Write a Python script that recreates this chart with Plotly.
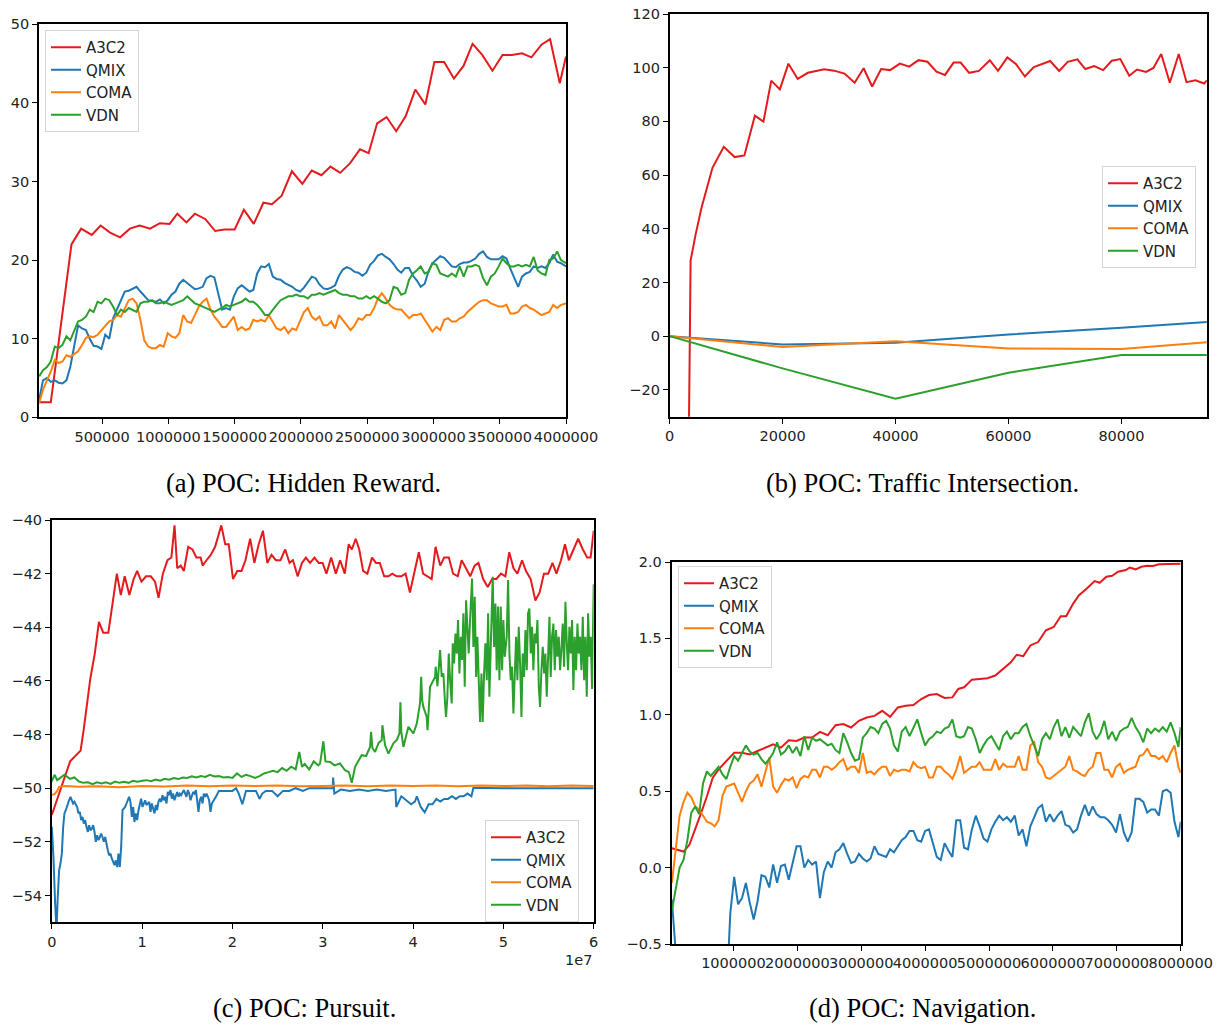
import plotly.graph_objects as go

# ---------------- (a) POC: Hidden Reward ----------------
a_x = [25000, 54000, 84000, 113000, 143000, 172000, 201000, 231000, 260000, 289000,
       319000, 348000, 378000, 407000, 436000, 466000, 495000, 524000, 554000, 583000,
       613000, 642000, 671000, 701000, 730000, 760000, 789000, 818000, 848000, 877000,
       906000, 936000, 965000, 995000, 1024000, 1053000, 1083000, 1112000, 1142000, 1171000,
       1200000, 1230000, 1259000, 1288000, 1318000, 1347000, 1377000, 1406000, 1435000, 1465000,
       1494000, 1523000, 1553000, 1582000, 1612000, 1641000, 1670000, 1700000, 1729000, 1758000,
       1788000, 1817000, 1847000, 1876000, 1905000, 1935000, 1964000, 1994000, 2023000, 2052000,
       2082000, 2111000, 2140000, 2170000, 2199000, 2229000, 2258000, 2287000, 2317000, 2346000,
       2375000, 2405000, 2434000, 2464000, 2493000, 2522000, 2552000, 2581000, 2611000, 2640000,
       2669000, 2699000, 2728000, 2757000, 2787000, 2816000, 2846000, 2875000, 2904000, 2934000,
       2963000, 2992000, 3022000, 3051000, 3081000, 3110000, 3139000, 3169000, 3198000, 3228000,
       3257000, 3286000, 3316000, 3345000, 3374000, 3404000, 3433000, 3463000, 3492000, 3521000,
       3551000, 3580000, 3609000, 3639000, 3668000, 3698000, 3727000, 3756000, 3786000, 3815000,
       3845000, 3874000, 3903000, 3933000, 3962000, 4000000]
a_qmix = [2.2, 4.7, 5.0, 4.5, 4.7, 4.4, 4.3, 4.7, 6.4, 9.0,
          11.7, 11.3, 11.1, 10.0, 9.1, 9.0, 8.7, 10.5, 10.0, 12.6,
          13.7, 14.8, 16.0, 16.1, 16.4, 16.6, 16.0, 15.5, 14.9, 14.8,
          14.7, 15.0, 14.5, 14.9, 15.6, 16.0, 17.0, 17.5, 17.1, 16.6,
          16.3, 16.4, 16.6, 17.7, 18.0, 17.8, 15.8, 13.7, 13.9, 13.7,
          15.4, 16.4, 16.8, 16.4, 16.0, 16.2, 18.3, 19.2, 19.1, 19.5,
          17.9, 17.6, 17.5, 17.1, 16.9, 16.6, 16.2, 16.0, 16.5, 17.2,
          17.9, 17.7, 16.9, 16.4, 16.3, 16.5, 16.8, 18.0, 18.8, 19.1,
          18.9, 18.5, 18.4, 18.0, 18.4, 19.4, 19.9, 20.6, 20.8, 20.4,
          20.1, 19.5, 18.8, 18.4, 19.0, 19.0, 18.0, 17.4, 16.6, 17.0,
          18.6, 19.6, 20.1, 20.5, 20.3, 19.7, 19.2, 19.1, 19.5, 19.7,
          19.7, 19.9, 20.2, 20.8, 21.1, 20.4, 20.1, 20.1, 20.1, 20.5,
          20.2, 18.9, 17.7, 16.6, 17.9, 18.3, 18.5, 19.2, 19.0, 19.2,
          19.0, 19.6, 20.7, 19.8, 19.6, 19.2]
a_coma = [1.8, 3.5, 4.7, 5.8, 7.3, 6.9, 7.1, 7.9, 7.7, 8.1,
          8.4, 9.2, 10.1, 10.3, 10.2, 10.5, 11.1, 11.7, 12.2, 12.4,
          13.0, 12.8, 13.9, 14.9, 15.1, 14.5, 12.4, 9.8, 9.0, 8.8,
          8.8, 9.2, 9.0, 10.7, 10.3, 10.1, 10.7, 13.0, 12.2, 12.0,
          13.0, 14.1, 14.7, 15.1, 13.7, 12.8, 12.2, 11.5, 11.5, 12.2,
          12.8, 11.1, 11.5, 11.1, 11.3, 12.4, 12.2, 12.4, 12.2, 13.0,
          12.2, 11.3, 11.1, 11.5, 10.7, 11.3, 11.1, 12.4, 13.4, 13.9,
          12.8, 12.4, 12.8, 11.7, 11.7, 12.2, 11.3, 13.0, 12.4, 11.7,
          11.1, 11.7, 12.6, 12.4, 13.0, 13.0, 13.9, 15.1, 15.8, 15.1,
          14.3, 13.9, 13.7, 13.7, 13.2, 12.6, 13.0, 13.0, 13.2, 12.4,
          11.5, 10.9, 11.5, 11.1, 12.4, 12.6, 12.2, 12.2, 12.6, 12.8,
          13.4, 13.9, 14.3, 14.7, 14.9, 14.9, 14.5, 14.3, 14.1, 14.1,
          14.3, 13.2, 13.2, 13.4, 14.1, 14.3, 13.9, 13.7, 13.4, 13.0,
          13.2, 13.4, 14.3, 13.9, 14.3, 14.5]
a_vdn = [5.2, 6.0, 6.4, 7.1, 9.0, 8.8, 9.2, 10.3, 9.8, 11.1,
         12.2, 12.4, 12.8, 13.7, 13.4, 14.7, 14.5, 15.1, 14.9, 14.1,
         13.0, 13.7, 13.4, 13.9, 13.7, 13.4, 14.5, 14.7, 14.7, 14.9,
         14.5, 14.5, 14.7, 14.5, 14.3, 14.5, 14.7, 14.9, 15.4, 14.9,
         14.5, 14.3, 14.1, 13.9, 13.7, 13.4, 13.7, 13.9, 14.3, 14.1,
         14.3, 14.5, 14.7, 15.1, 14.7, 14.7, 14.3, 13.7, 13.0, 13.0,
         13.7, 14.3, 14.9, 15.1, 15.4, 15.4, 15.6, 15.4, 15.4, 15.1,
         15.6, 15.6, 15.8, 15.6, 15.8, 16.0, 16.2, 15.8, 15.6, 15.6,
         15.4, 15.4, 15.1, 15.1, 15.4, 15.1, 15.4, 15.1, 14.7, 14.5,
         14.9, 16.6, 16.4, 15.6, 15.8, 17.5, 18.3, 18.7, 19.2, 18.3,
         18.5, 19.6, 19.4, 18.3, 18.1, 17.9, 18.3, 17.9, 19.2, 17.9,
         19.2, 19.2, 19.4, 19.2, 17.7, 16.8, 17.9, 18.3, 19.2, 20.2,
         19.6, 19.2, 19.2, 19.4, 19.2, 19.4, 19.2, 20.4, 18.7, 18.3,
         18.1, 20.0, 20.2, 21.1, 20.0, 19.6]
a_a3c2_x = [25000, 113000, 269000, 342000, 422000, 489000, 560000, 636000, 710000, 783000,
            862000, 936000, 1009000, 1068000, 1136000, 1200000, 1280000, 1353000, 1421000, 1500000,
            1570000, 1644000, 1717000, 1782000, 1855000, 1932000, 2011000, 2082000, 2155000, 2223000,
            2296000, 2370000, 2446000, 2511000, 2575000, 2646000, 2719000, 2790000, 2863000, 2939000,
            3007000, 3081000, 3154000, 3227000, 3295000, 3368000, 3445000, 3521000, 3592000, 3668000,
            3739000, 3815000, 3880000, 3953000, 4000000]
a_a3c2_y = [1.9, 1.9, 22.0, 24.0, 23.2, 24.4, 23.5, 22.9, 24.0, 24.4,
            24.0, 24.7, 24.6, 25.9, 24.8, 25.9, 25.2, 23.7, 23.9, 23.9,
            26.4, 24.6, 27.3, 27.1, 28.2, 31.3, 29.7, 31.4, 30.8, 31.9,
            31.1, 32.3, 34.1, 33.6, 37.4, 38.2, 36.4, 38.3, 41.7, 39.8,
            45.2, 45.2, 43.1, 44.7, 47.5, 46.1, 44.1, 46.1, 46.1, 46.3,
            45.8, 47.4, 48.1, 42.5, 45.9]

# ---------------- (b) POC: Traffic Intersection ----------------
b_x = [0, 20000, 40000, 60000, 80000, 100000]
b_qmix = [0, -3.1, -2.5, 0.6, 3.1, 6.0]
b_coma = [0, -4.0, -1.9, -4.6, -4.8, -1.5]
b_vdn = [0, -12.0, -23.3, -13.6, -7.0, -7.0]
b_a3c2_x = [0, 3720, 4620, 5660, 7590, 9590, 11520, 13240, 15100, 16620,
            18000, 19520, 21040, 22690, 24480, 26000, 27380, 29110, 30970, 32760,
            34350, 35860, 37450, 39040, 40760, 42420, 44070, 45660, 47240, 48760,
            50280, 51520, 53040, 54760, 56690, 58140, 59800, 61310, 62900, 64490,
            66000, 67380, 68970, 70490, 72210, 73590, 75180, 76760, 78280, 79800,
            81380, 82760, 84350, 85660, 87040, 88560, 90140, 91520, 93110, 94630, 95110]
b_a3c2_y = [-750, 28.1, 38.0, 47.9, 62.7, 70.5, 66.7, 67.3, 82.1, 79.9,
            95.2, 91.9, 101.5, 95.8, 98.1, 98.7, 99.4, 98.9, 97.8, 94.4,
            99.8, 93.0, 99.5, 99.1, 101.5, 100.4, 102.8, 102.2, 98.5, 97.3,
            101.9, 101.9, 98.1, 98.8, 102.8, 98.8, 103.8, 101.4, 96.7, 100.2,
            101.4, 102.5, 98.8, 102.2, 103.1, 99.5, 100.6, 99.1, 102.6, 103.2,
            97.0, 99.3, 98.4, 99.9, 105.1, 94.4, 105.1, 94.6, 95.3, 94.1, 95.3]

# ---------------- (c) POC: Pursuit (x in units of 1e7 steps) ----------------
c_a3c2_x = [0.0, 0.073, 0.138, 0.203, 0.319, 0.354, 0.427, 0.475, 0.522, 0.569,
            0.626, 0.673, 0.720, 0.764, 0.807, 0.859, 0.906, 0.945, 0.992, 1.044,
            1.096, 1.143, 1.182, 1.230, 1.281, 1.324, 1.359, 1.389, 1.428, 1.462,
            1.510, 1.557, 1.601, 1.648, 1.670, 1.713, 1.760, 1.808, 1.877, 1.920,
            1.959, 2.006, 2.054, 2.101, 2.144, 2.196, 2.243, 2.291, 2.338, 2.386,
            2.433, 2.481, 2.532, 2.584, 2.632, 2.670, 2.722, 2.770, 2.813, 2.860,
            2.908, 2.955, 2.998, 3.041, 3.093, 3.145, 3.192, 3.244, 3.287, 3.322,
            3.365, 3.404, 3.447, 3.494, 3.546, 3.589, 3.632, 3.680, 3.727, 3.770,
            3.818, 3.870, 3.917, 3.965, 4.012, 4.064, 4.111, 4.159, 4.206, 4.249,
            4.301, 4.344, 4.396, 4.443, 4.495, 4.538, 4.582, 4.633, 4.681, 4.724,
            4.776, 4.827, 4.875, 4.922, 4.974, 5.022, 5.065, 5.112, 5.155, 5.207,
            5.250, 5.302, 5.354, 5.401, 5.449, 5.496, 5.544, 5.587, 5.638, 5.682,
            5.725, 5.781, 5.828, 5.880, 5.928, 5.966, 6.000]
c_a3c2_y = [-51.0, -50.3, -49.6, -49.0, -48.6, -47.8, -45.9, -45.0, -43.8, -44.2,
            -44.2, -43.0, -42.0, -42.8, -42.1, -42.8, -42.2, -41.9, -42.3, -42.1,
            -42.1, -42.3, -42.9, -42.0, -41.5, -41.4, -40.2, -41.8, -41.7, -41.9,
            -41.0, -41.1, -41.4, -41.4, -41.7, -41.5, -41.3, -41.0, -40.2, -40.9,
            -40.9, -42.2, -41.9, -41.9, -41.5, -40.7, -41.6, -40.9, -40.4, -41.6,
            -41.3, -41.5, -41.5, -41.1, -41.6, -41.5, -42.1, -41.6, -41.4, -41.6,
            -41.4, -41.6, -41.6, -42.0, -41.4, -42.0, -41.5, -42.0, -40.9, -41.1,
            -40.7, -41.1, -41.9, -42.0, -41.4, -41.6, -41.6, -42.1, -42.1, -42.0,
            -42.1, -42.1, -42.0, -42.7, -42.0, -41.2, -42.0, -42.1, -42.2, -41.0,
            -41.7, -41.4, -41.4, -42.0, -42.1, -41.5, -41.8, -42.1, -41.7, -41.6,
            -42.2, -42.5, -42.2, -42.2, -42.0, -42.1, -41.2, -41.8, -42.0, -41.5,
            -41.9, -42.2, -43.0, -42.7, -42.0, -42.0, -41.6, -42.0, -41.5, -40.9,
            -41.5, -41.1, -40.7, -41.1, -41.4, -41.4, -40.4]
c_qmix_x = [0.0, 0.018, 0.037, 0.052, 0.066, 0.081, 0.096, 0.111, 0.126, 0.140,
            0.155, 0.170, 0.185, 0.207, 0.221, 0.236, 0.251, 0.266, 0.281, 0.295,
            0.310, 0.325, 0.340, 0.354, 0.369, 0.384, 0.399, 0.413, 0.428, 0.443,
            0.458, 0.473, 0.487, 0.502, 0.517, 0.532, 0.546, 0.561, 0.576, 0.591,
            0.605, 0.620, 0.635, 0.650, 0.664, 0.679, 0.694, 0.709, 0.724, 0.738,
            0.753, 0.768, 0.783, 0.797, 0.812, 0.827, 0.842, 0.856, 0.871, 0.886,
            0.901, 0.915, 0.930, 0.945, 0.960, 0.975, 0.989, 1.004, 1.019, 1.034,
            1.048, 1.063, 1.078, 1.093, 1.107, 1.122, 1.137, 1.152, 1.166, 1.181,
            1.196, 1.211, 1.226, 1.240, 1.255, 1.270, 1.285, 1.299, 1.314, 1.329,
            1.344, 1.358, 1.373, 1.388, 1.403, 1.417, 1.432, 1.447, 1.462, 1.477,
            1.491, 1.506, 1.521, 1.536, 1.550, 1.565, 1.580, 1.595, 1.609, 1.624,
            1.639, 1.654, 1.669, 1.683, 1.698, 1.713, 1.728, 1.742, 1.757, 1.772,
            1.82, 1.85, 1.89, 1.93, 1.96, 2.0, 2.04, 2.07, 2.11, 2.15,
            2.19, 2.22, 2.26, 2.30, 2.33, 2.37, 2.44, 2.50, 2.56, 2.63,
            2.70, 2.78, 2.85, 2.93, 3.0, 3.11, 3.115, 3.128, 3.2, 3.3,
            3.4, 3.5, 3.6, 3.7, 3.805, 3.814, 3.87, 3.934, 3.978, 4.021,
            4.042, 4.085, 4.129, 4.172, 4.215, 4.258, 4.301, 4.344, 4.387, 4.431,
            4.474, 4.517, 4.56, 4.603, 4.646, 4.668, 5.0, 5.5, 6.0]
c_qmix_y = [-51.44, -52.56, -54.3, -55.3, -54.05, -53.06, -52.81, -52.44, -51.44, -50.94,
            -50.82, -50.7, -50.51, -50.32, -50.45, -50.57, -50.51, -50.63, -50.7, -50.94,
            -50.88, -51.19, -51.07, -51.32, -51.19, -51.44, -51.63, -51.38, -51.57, -51.51,
            -51.38, -51.63, -52.0, -51.75, -51.94, -51.82, -51.69, -51.82, -52.0, -51.82,
            -52.13, -52.31, -52.5, -52.44, -52.62, -52.75, -52.87, -52.69, -52.94, -52.44,
            -52.94, -52.19, -50.82, -50.76, -50.7, -50.57, -50.45, -50.32, -50.51, -51.07,
            -50.7, -51.26, -50.94, -51.19, -50.82, -50.57, -50.39, -50.7, -50.57, -50.45,
            -50.63, -50.57, -50.51, -50.88, -50.57, -50.76, -50.94, -50.63, -50.82, -50.51,
            -50.39, -50.51, -50.26, -50.45, -50.32, -50.57, -50.14, -50.26, -50.07, -50.39,
            -50.2, -50.45, -50.26, -50.14, -50.32, -50.2, -50.26, -50.14, -50.07, -50.2,
            -50.32, -50.07, -50.2, -50.45, -50.26, -50.14, -50.2, -50.07, -50.45, -50.88,
            -50.45, -50.32, -50.57, -50.2, -50.32, -50.2, -50.32, -50.45, -50.88, -50.57,
            -50.3, -50.1, -50.1, -50.1, -50.1, -50.1, -50.0, -50.2, -50.6, -50.1,
            -50.1, -50.1, -50.1, -50.4, -50.2, -50.1, -50.1, -50.3, -50.1, -50.1,
            -50.0, -50.1, -50.0, -50.0, -50.0, -50.0, -49.6, -50.2, -50.05, -50.1,
            -50.05, -50.1, -50.05, -50.1, -50.05, -50.7, -50.3, -50.5, -50.6, -50.5,
            -50.3, -50.7, -50.9, -50.6, -50.6, -50.4, -50.5, -50.4, -50.4, -50.3,
            -50.4, -50.3, -50.3, -50.2, -50.3, -49.98, -50.0, -50.0, -50.0]
c_coma_x = [0.0, 0.03, 0.06, 0.08, 0.15, 0.3, 0.5, 0.75, 1.0, 1.25,
            1.5, 1.75, 2.0, 2.25, 2.5, 2.75, 3.0, 3.25, 3.5, 3.75,
            4.0, 4.25, 4.5, 4.75, 5.0, 5.25, 5.5, 5.75, 6.0]
c_coma_y = [-50.25, -50.22, -50.1, -49.95, -49.92, -49.95, -49.93, -49.96, -49.92, -49.94,
            -49.9, -49.93, -49.9, -49.92, -49.9, -49.93, -49.92, -49.9, -49.93, -49.9,
            -49.92, -49.9, -49.93, -49.9, -49.92, -49.9, -49.93, -49.9, -49.92]
c_vdn_x = [0.0, 0.03, 0.06, 0.1, 0.14, 0.2, 0.25, 0.3, 0.35, 0.4,
           0.45, 0.5, 0.55, 0.6, 0.65, 0.7, 0.75, 0.8, 0.85, 0.9,
           0.95, 1.0, 1.05, 1.1, 1.15, 1.2, 1.25, 1.3, 1.35, 1.4,
           1.45, 1.5, 1.55, 1.6, 1.65, 1.7, 1.75, 1.8, 1.85, 1.9,
           1.95, 2.0, 2.05, 2.1, 2.15, 2.2, 2.25, 2.3, 2.35, 2.4,
           2.45, 2.5, 2.55, 2.6, 2.65, 2.7, 2.74, 2.77, 2.8, 2.85,
           2.9, 2.95, 2.97, 3.007, 3.03, 3.081, 3.13, 3.191, 3.247, 3.29,
           3.321, 3.34, 3.358, 3.4, 3.431, 3.48, 3.524, 3.535, 3.55, 3.579,
           3.62, 3.653, 3.66, 3.69, 3.727, 3.782, 3.82, 3.849, 3.86, 3.87,
           3.893, 3.948, 4.004, 4.041, 4.077, 4.09, 4.1, 4.114, 4.151, 4.16,
           4.188, 4.244, 4.25, 4.27,
           4.299, 4.317, 4.336, 4.354, 4.365, 4.380, 4.395, 4.410, 4.428, 4.439,
           4.454, 4.469, 4.484, 4.498, 4.513, 4.528, 4.543, 4.557, 4.572, 4.587,
           4.602, 4.616, 4.631, 4.653, 4.668, 4.683, 4.698, 4.712, 4.727, 4.742,
           4.757, 4.771, 4.786, 4.801, 4.816, 4.831, 4.845, 4.860, 4.882, 4.897,
           4.912, 4.926, 4.941, 4.956, 4.971, 4.986, 5.000, 5.015, 5.037, 5.052,
           5.067, 5.081, 5.096, 5.111, 5.126, 5.141, 5.155, 5.170, 5.185, 5.200,
           5.214, 5.229, 5.244, 5.259, 5.273, 5.288, 5.303, 5.318, 5.332, 5.347,
           5.362, 5.377, 5.392, 5.406, 5.421, 5.436, 5.451, 5.465, 5.480, 5.495,
           5.510, 5.524, 5.539, 5.554, 5.569, 5.583, 5.598, 5.613, 5.628, 5.642,
           5.657, 5.672, 5.687, 5.702, 5.716, 5.731, 5.746, 5.761, 5.775, 5.790,
           5.805, 5.820, 5.834, 5.849, 5.864, 5.879, 5.894, 5.908, 5.923, 5.938,
           5.953, 5.967, 5.982, 6.0]
c_vdn_y = [-49.75, -49.5, -49.7, -49.6, -49.5, -49.65, -49.6, -49.75, -49.8, -49.78,
           -49.85, -49.78, -49.82, -49.78, -49.84, -49.75, -49.8, -49.76, -49.8, -49.72,
           -49.76, -49.72, -49.7, -49.74, -49.68, -49.72, -49.65, -49.68, -49.62, -49.66,
           -49.6, -49.62, -49.56, -49.6, -49.55, -49.58, -49.5, -49.56, -49.55, -49.6,
           -49.58, -49.62, -49.45, -49.58, -49.5, -49.55, -49.62, -49.55, -49.45, -49.4,
           -49.35, -49.4, -49.25, -49.35, -49.2, -49.3, -48.65, -49.2, -49.1, -49.3,
           -49.0, -49.15, -49.08, -48.25, -49.0, -49.02, -49.15, -49.08, -49.33, -49.4,
           -49.8, -49.5, -49.2, -48.95, -48.77, -48.8, -48.46, -47.9, -48.5, -48.65,
           -48.3, -48.21, -47.65, -48.4, -48.71, -48.33, -48.2, -47.96, -46.8, -47.9,
           -48.46, -47.71, -47.96, -47.59, -46.84, -45.85, -46.7, -46.97, -47.34, -47.84,
           -46.22, -45.85, -45.47, -46.2,
           -44.85, -45.85, -45.72, -46.84, -47.34, -46.59, -44.98, -45.97, -46.84, -44.6,
           -45.35, -44.23, -44.98, -43.73, -45.72, -44.35, -45.22, -43.48, -46.22, -42.99,
           -44.35, -44.98, -43.73, -42.18, -44.73, -42.86, -45.85, -44.35, -45.97, -47.53,
           -45.72, -47.53, -45.72, -44.6, -45.97, -43.48, -46.59, -44.35, -42.12, -44.73,
           -43.11, -45.6, -43.23, -45.97, -43.23, -45.6, -43.73, -45.1, -44.35, -42.24,
           -44.98, -45.97, -45.47, -47.21, -45.47, -44.35, -45.97, -43.98, -45.35, -47.34,
           -44.98, -45.85, -44.1, -45.6, -43.48, -43.3, -44.98, -43.98, -45.6, -44.23,
           -44.6, -43.73, -46.22, -46.97, -45.6, -44.73, -45.72, -44.98, -46.59, -44.6,
           -43.61, -45.85, -44.35, -43.86, -45.6, -44.1, -45.1, -44.35, -45.6, -44.85,
           -43.86, -45.47, -43.05, -44.6, -45.6, -43.98, -44.98, -43.73, -46.34, -44.35,
           -45.6, -43.86, -44.98, -44.35, -45.6, -43.61, -45.97, -44.35, -46.59, -43.48,
           -45.1, -44.35, -46.3, -42.4]

# ---------------- (d) POC: Navigation ----------------
d_x = [37000, 97000, 158000, 219000, 280000, 341000, 402000, 463000, 524000, 585000,
       646000, 707000, 768000, 829000, 890000, 951000, 1012000, 1073000, 1134000, 1195000,
       1256000, 1317000, 1378000, 1439000, 1500000, 1561000, 1622000, 1683000, 1744000, 1805000,
       1866000, 1927000, 1988000, 2049000, 2110000, 2171000, 2232000, 2293000, 2354000, 2415000,
       2476000, 2537000, 2598000, 2659000, 2720000, 2781000, 2842000, 2903000, 2964000, 3025000,
       3086000, 3146000, 3207000, 3268000, 3329000, 3390000, 3451000, 3512000, 3573000, 3634000,
       3695000, 3756000, 3817000, 3878000, 3939000, 4000000, 4061000, 4122000, 4183000, 4244000,
       4305000, 4366000, 4427000, 4488000, 4549000, 4610000, 4671000, 4732000, 4793000, 4854000,
       4915000, 4976000, 5037000, 5098000, 5159000, 5220000, 5281000, 5342000, 5403000, 5464000,
       5525000, 5586000, 5647000, 5708000, 5769000, 5830000, 5891000, 5952000, 6013000, 6074000,
       6135000, 6195000, 6256000, 6317000, 6378000, 6439000, 6500000, 6561000, 6622000, 6683000,
       6744000, 6805000, 6866000, 6927000, 6988000, 7049000, 7110000, 7171000, 7232000, 7293000,
       7354000, 7415000, 7476000, 7537000, 7598000, 7659000, 7720000, 7781000, 7842000, 7903000,
       7964000, 8000000]
d_qmix = [-0.21, -0.60, -0.90, -1.0, -1.0, -1.0, -1.0, -1.0, -1.0, -1.0,
          -1.0, -1.0, -1.0, -1.0, -0.85, -0.30, -0.06, -0.24, -0.20, -0.10,
          -0.23, -0.34, -0.22, -0.05, -0.06, -0.13, 0.02, -0.10, 0.01, 0.02,
          -0.08, 0.03, 0.14, 0.14, 0.00, 0.05, 0.02, 0.04, -0.20, -0.03,
          0.04, 0.00, 0.10, 0.12, 0.16, 0.09, 0.03, 0.04, 0.09, 0.06,
          0.04, 0.06, 0.14, 0.09, 0.08, 0.07, 0.12, 0.10, 0.14, 0.18,
          0.20, 0.24, 0.24, 0.18, 0.17, 0.24, 0.25, 0.15, 0.07, 0.05,
          0.16, 0.11, 0.07, 0.31, 0.31, 0.13, 0.12, 0.25, 0.34, 0.27,
          0.19, 0.17, 0.25, 0.30, 0.34, 0.31, 0.33, 0.30, 0.34, 0.21,
          0.25, 0.14, 0.27, 0.33, 0.39, 0.41, 0.30, 0.35, 0.30, 0.34,
          0.37, 0.28, 0.27, 0.23, 0.25, 0.34, 0.41, 0.34, 0.40, 0.35,
          0.33, 0.33, 0.31, 0.28, 0.23, 0.35, 0.23, 0.17, 0.23, 0.45,
          0.45, 0.43, 0.36, 0.38, 0.38, 0.34, 0.50, 0.51, 0.49, 0.30,
          0.20, 0.30]
d_coma = [-0.10, 0.12, 0.34, 0.43, 0.49, 0.46, 0.40, 0.38, 0.34, 0.30,
          0.29, 0.27, 0.31, 0.47, 0.53, 0.54, 0.55, 0.49, 0.43, 0.50,
          0.55, 0.57, 0.61, 0.53, 0.62, 0.72, 0.53, 0.49, 0.54, 0.58,
          0.57, 0.59, 0.52, 0.58, 0.60, 0.59, 0.64, 0.64, 0.59, 0.66,
          0.66, 0.64, 0.66, 0.69, 0.71, 0.64, 0.66, 0.66, 0.62, 0.75,
          0.62, 0.63, 0.61, 0.64, 0.66, 0.66, 0.60, 0.64, 0.63, 0.64,
          0.64, 0.63, 0.69, 0.66, 0.65, 0.66, 0.59, 0.59, 0.66, 0.66,
          0.63, 0.61, 0.58, 0.64, 0.73, 0.62, 0.64, 0.66, 0.66, 0.69,
          0.64, 0.64, 0.64, 0.71, 0.64, 0.68, 0.66, 0.66, 0.66, 0.73,
          0.64, 0.64, 0.80, 0.82, 0.69, 0.66, 0.59, 0.58, 0.60, 0.62,
          0.64, 0.66, 0.73, 0.64, 0.63, 0.61, 0.60, 0.64, 0.66, 0.75,
          0.75, 0.64, 0.64, 0.59, 0.66, 0.68, 0.62, 0.64, 0.65, 0.66,
          0.73, 0.74, 0.78, 0.73, 0.73, 0.71, 0.73, 0.69, 0.75, 0.80,
          0.66, 0.62]
d_vdn = [-0.28, -0.14, 0.00, 0.05, 0.18, 0.36, 0.40, 0.35, 0.55, 0.63,
         0.60, 0.63, 0.66, 0.61, 0.58, 0.66, 0.73, 0.70, 0.75, 0.80,
         0.76, 0.74, 0.75, 0.71, 0.68, 0.71, 0.75, 0.82, 0.74, 0.76,
         0.80, 0.75, 0.79, 0.73, 0.86, 0.77, 0.85, 0.83, 0.84, 0.82,
         0.80, 0.81, 0.77, 0.75, 0.88, 0.82, 0.75, 0.70, 0.71, 0.85,
         0.88, 0.92, 0.91, 0.88, 0.94, 0.96, 0.91, 0.80, 0.76, 0.89,
         0.92, 0.86, 0.92, 0.97, 0.88, 0.80, 0.84, 0.86, 0.89, 0.88,
         0.91, 0.92, 0.97, 0.86, 0.85, 0.86, 0.92, 0.91, 0.84, 0.75,
         0.80, 0.84, 0.86, 0.81, 0.77, 0.86, 0.89, 0.84, 0.88, 0.88,
         0.92, 0.94, 0.86, 0.80, 0.73, 0.84, 0.88, 0.84, 0.92, 0.97,
         0.86, 0.92, 0.85, 0.92, 0.89, 0.86, 0.95, 1.01, 0.89, 0.84,
         0.88, 0.96, 0.84, 0.89, 0.83, 0.89, 0.91, 0.92, 0.98, 0.92,
         0.88, 0.82, 0.91, 0.88, 0.91, 0.89, 0.92, 0.89, 0.95, 0.88,
         0.79, 0.92]
d_a3c2_x = [36500, 128000, 219500, 310900, 402400, 493900, 585300, 676800, 768300, 890200,
            1012200, 1134200, 1256100, 1378100, 1500000, 1622000, 1744000, 1865900, 1987900, 2109800,
            2231800, 2353800, 2475700, 2597700, 2719600, 2841600, 2963600, 3085500, 3207500, 3329400,
            3451400, 3573400, 3695300, 3817300, 3939200, 4061200, 4183200, 4305100, 4427100, 4518600,
            4610000, 4732000, 4853900, 4975900, 5097900, 5219800, 5341800, 5433200, 5536900, 5646700,
            5768600, 5890600, 6012600, 6122300, 6207700, 6317500, 6409000, 6530900, 6652900, 6732200,
            6835900, 6927300, 7018800, 7140800, 7201800, 7293200, 7384700, 7476200, 7567700, 7659100,
            7750600, 7842100, 8000000]
d_a3c2_y = [0.127, 0.116, 0.105, 0.149, 0.248, 0.357, 0.467, 0.588, 0.643, 0.697,
            0.752, 0.752, 0.741, 0.763, 0.785, 0.807, 0.785, 0.833, 0.829, 0.851,
            0.851, 0.888, 0.866, 0.932, 0.939, 0.917, 0.961, 0.982, 0.993, 1.026,
            0.987, 1.048, 1.059, 1.064, 1.103, 1.129, 1.136, 1.110, 1.114, 1.169,
            1.180, 1.230, 1.235, 1.239, 1.257, 1.300, 1.344, 1.393, 1.384, 1.454,
            1.476, 1.553, 1.575, 1.645, 1.645, 1.728, 1.783, 1.827, 1.875, 1.864,
            1.904, 1.910, 1.936, 1.947, 1.963, 1.952, 1.969, 1.976, 1.974, 1.985,
            1.985, 1.987, 1.989]

names = ["A3C2", "QMIX", "COMA", "VDN"]
colors = {"A3C2": "#e41a1c", "QMIX": "#1f77b4", "COMA": "#ff7f0e", "VDN": "#2ca02c"}

panels = {
    1: {"A3C2": (a_a3c2_x, a_a3c2_y), "QMIX": (a_x, a_qmix), "COMA": (a_x, a_coma), "VDN": (a_x, a_vdn)},
    2: {"A3C2": (b_a3c2_x, b_a3c2_y), "QMIX": (b_x, b_qmix), "COMA": (b_x, b_coma), "VDN": (b_x, b_vdn)},
    3: {"A3C2": (c_a3c2_x, c_a3c2_y), "QMIX": (c_qmix_x, c_qmix_y), "COMA": (c_coma_x, c_coma_y), "VDN": (c_vdn_x, c_vdn_y)},
    4: {"A3C2": (d_a3c2_x, d_a3c2_y), "QMIX": (d_x, d_qmix), "COMA": (d_x, d_coma), "VDN": (d_x, d_vdn)},
}

W, H = 1225, 1026
fig = go.Figure()
for p, series in panels.items():
    sfx = "" if p == 1 else str(p)
    for n in names:
        xs, ys = series[n]
        assert len(xs) == len(ys), (p, n, len(xs), len(ys))
        fig.add_trace(go.Scatter(
            x=xs, y=ys, mode="lines", name=n,
            line=dict(color=colors[n], width=2),
            xaxis="x" + sfx, yaxis="y" + sfx,
            legend="legend" + sfx, showlegend=True,
        ))

tickfont = dict(family="DejaVu Sans", size=14.5, color="#222222")


def minus(v, fmt):
    return fmt.format(v).replace("-", "\u2212")


def axis(domain, rng, vals, fmt, anchor):
    return dict(domain=domain, range=rng, tickmode="array", tickvals=vals,
                ticktext=[minus(v, fmt) for v in vals], showline=True, linecolor="black",
                linewidth=1.6, mirror=True, ticks="outside", ticklen=5, tickwidth=1.3,
                tickcolor="black", showgrid=False, zeroline=False, tickfont=tickfont,
                tickangle=0, anchor=anchor, automargin=False, fixedrange=True)


def px(a, b):
    return [a / W, b / W]


def py(top, bottom):
    return [1 - bottom / H, 1 - top / H]


layout = dict(
    width=W, height=H, margin=dict(l=0, r=0, t=0, b=0),
    paper_bgcolor="white", plot_bgcolor="white",
    xaxis=axis(px(39, 566), [24000, 4000000], [500000 * k for k in range(1, 9)], "{:d}", "y"),
    yaxis=axis(py(24.3, 417.3), [0, 50], [0, 10, 20, 30, 40, 50], "{:d}", "x"),
    xaxis2=axis(px(669.6, 1206.8), [0, 95110], [0, 20000, 40000, 60000, 80000], "{:d}", "y2"),
    yaxis2=axis(py(14, 416.7), [-30, 120], [-20, 0, 20, 40, 60, 80, 100, 120], "{:d}", "x2"),
    xaxis3=axis(px(51.8, 593.7), [0, 6], [0, 1, 2, 3, 4, 5, 6], "{:d}", "y3"),
    yaxis3=axis(py(520, 922.3), [-55, -40], [-54, -52, -50, -48, -46, -44, -42, -40], "{:d}", "x3"),
    xaxis4=axis(px(671.5, 1180.7), [31000, 8000000], [1000000 * k for k in range(1, 9)], "{:d}", "y4"),
    yaxis4=axis(py(562, 944), [-0.5, 2.0], [-0.5, 0.0, 0.5, 1.0, 1.5, 2.0], "{:.1f}", "x4"),
)

legend_style = dict(font=dict(family="DejaVu Sans", size=15, color="#222222"),
                    bgcolor="rgba(255,255,255,0.85)", bordercolor="#d4d4d4", borderwidth=1,
                    xanchor="left", yanchor="top", itemwidth=30, tracegroupgap=0,
                    itemclick=False, itemdoubleclick=False)
legend_pos = {"legend": (45, 30), "legend2": (1102, 166), "legend3": (485, 820), "legend4": (678, 566)}
for key, (lx, ly) in legend_pos.items():
    layout[key] = dict(legend_style, x=lx / W, y=1 - ly / H)

captions = [("(a) POC: Hidden Reward.", 303, 483), ("(b) POC: Traffic Intersection.", 922, 483),
            ("(c) POC: Pursuit.", 304.5, 1008), ("(d) POC: Navigation.", 922, 1008)]
annotations = []
for text, cx, cy in captions:
    annotations.append(dict(text=text, x=cx / W, y=1 - cy / H, xref="paper", yref="paper",
                            xanchor="center", yanchor="middle", showarrow=False,
                            font=dict(family="Liberation Serif", size=26.5, color="black")))
annotations.append(dict(text="1e7", x=593.7 / W, y=1 - 960 / H, xref="paper", yref="paper",
                        xanchor="right", yanchor="middle", showarrow=False, font=tickfont))
layout["annotations"] = annotations

fig.update_layout(**layout)
fig.write_html("out.html")
